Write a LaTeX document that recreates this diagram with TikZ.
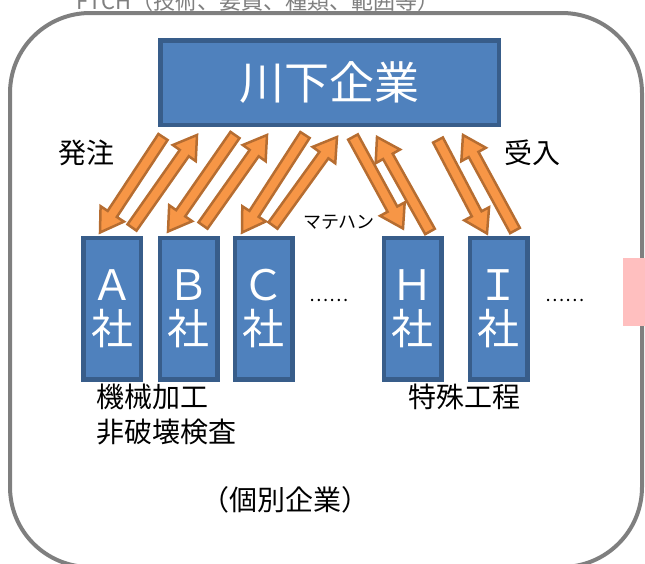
\documentclass[tikz,border=0pt]{standalone}
\usepackage{fontspec}
\setmainfont{Noto Sans CJK JP}
\usetikzlibrary{positioning,calc}

\definecolor{boxfill}{HTML}{4F81BD}
\definecolor{boxline}{HTML}{385D8A}
\definecolor{arrfill}{HTML}{F79646}
\definecolor{arrline}{HTML}{B66D31}
\definecolor{framegray}{HTML}{7F7F7F}
\definecolor{notepink}{HTML}{FFBFBF}

\tikzset{
  firm/.style={draw=boxline, fill=boxfill, line width=4.5pt, rectangle, minimum width=57.5pt, minimum height=141.5pt, inner sep=0pt, text=white, align=center, font=\fontsize{42}{44}\selectfont},
  flow/.style={fill=arrfill, draw=arrline, line width=2.5pt, line join=miter},
  caption/.style={font=\fontsize{28}{35}\selectfont, inner sep=0pt, align=left},
}

\newcommand{\flowarrow}[4]{%
  \filldraw[flow] let \p1=([shift={(#2)}]#1), \p2=([shift={(#4)}]#3),
    \n1={atan2(\y2-\y1,\x2-\x1)}, \n2={veclen(\x2-\x1,\y2-\y1)} in
    ($(\p1)+({\n1+90}:5.5pt)$)
    -- ($(\p1)+({\n1}:{\n2-22pt})+({\n1+90}:5.5pt)$)
    -- ($(\p1)+({\n1}:{\n2-22pt})+({\n1+90}:14pt)$)
    -- (\p2)
    -- ($(\p1)+({\n1}:{\n2-22pt})+({\n1-90}:14pt)$)
    -- ($(\p1)+({\n1}:{\n2-22pt})+({\n1-90}:5.5pt)$)
    -- ($(\p1)+({\n1-90}:5.5pt)$) -- cycle;}

\begin{document}
\begin{tikzpicture}[x=1pt, y=-1pt]
    \useasboundingbox (0,0) rectangle (645,563);
    \clip (0,0) rectangle (645,563);

    \draw[framegray, line width=4pt, rounded corners=80pt] (10,13) rectangle (642,567);
    \fill[notepink] (623,258) rectangle (650,326);
    \node[font=\fontsize{22}{23}\selectfont, text=framegray] (topic) at (258,1.5) {FTCH（技術、要員、種類、範囲等）};

    \node[firm, minimum width=338.5pt, minimum height=84.5pt, font=\fontsize{45}{46}\selectfont] (top) at (329.5,82.5) {川下企業};

    \node[firm] (A) at (112,308.5) {Ａ\\社};
    \node[firm, right=14.5pt of A] (B) {Ｂ\\社};
    \node[firm, right=13pt of B] (C) {Ｃ\\社};
    \node[firm, right=87pt of C] (H) {Ｈ\\社};
    \node[firm, right=24pt of H] (I) {Ｉ\\社};

    \node[font=\fontsize{18}{20}\selectfont] (dotsC) at (329,300) {……};
    \node[font=\fontsize{18}{20}\selectfont] (dotsI) at (565,300) {……};

    \node[caption] (order) at (86.5,153) {発注};
    \node[caption] (accept) at (532.5,153) {受入};
    \node[font=\fontsize{18}{20}\selectfont] (handling) at (339,222) {マテハン};

    \node[caption, below right=2.5pt and 15pt of A.south west] (machining) {機械加工\\非破壊検査};
    \node[caption, below right=2.5pt and 27pt of H.south west] (special) {特殊工程};
    \node[caption] (single) at (285,500) {（個別企業）};

    \flowarrow{top.south}{-166.5,10}{A.north}{-12,-3}
    \flowarrow{A.north}{20,-8}{top.south}{-132.5,8}
    \flowarrow{top.south}{-94.5,8}{B.north}{-20.5,-4}
    \flowarrow{B.north}{14.5,-10}{top.south}{-62.5,8}
    \flowarrow{top.south}{-24.5,8}{C.north}{-21.5,-3}
    \flowarrow{C.north}{9.5,-10}{top.south}{7.5,10}
    \flowarrow{top.south}{23.5,10}{H.north}{-9.5,-7}
    \flowarrow{H.north}{17.5,-4}{top.south}{47.5,10}
    \flowarrow{top.south}{108.5,13}{I.north}{-11.5,-2}
    \flowarrow{I.north}{16.5,-5}{top.south}{133.5,8}
\end{tikzpicture}
\end{document}
